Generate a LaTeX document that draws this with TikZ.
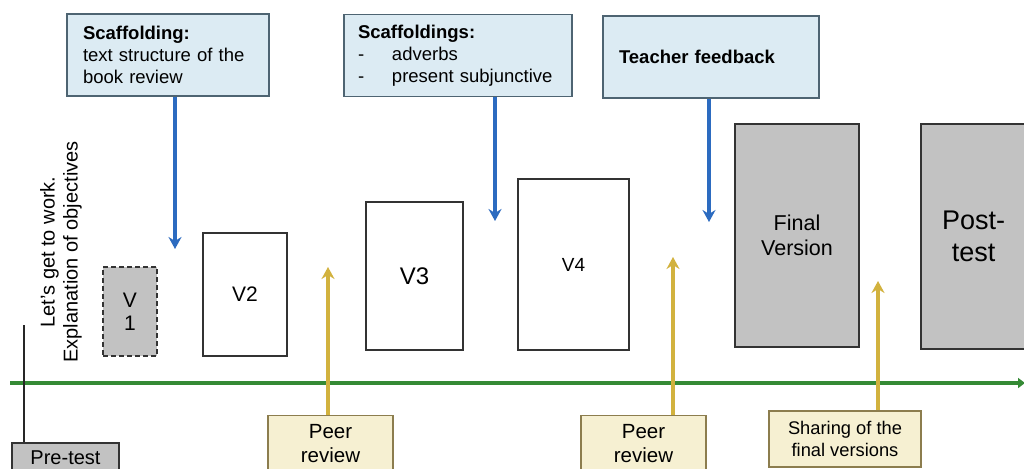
\documentclass[tikz,border=0pt]{standalone}
\usepackage{fontspec}
\setmainfont{Liberation Sans}
\usetikzlibrary{arrows.meta}
\definecolor{topfill}{HTML}{DCEBF3}
\definecolor{topdraw}{HTML}{4E6472}
\definecolor{bluearr}{HTML}{2C6BC0}
\definecolor{goldarr}{HTML}{D2B23E}
\definecolor{botfill}{HTML}{F6F0D2}
\definecolor{botdraw}{HTML}{8C7D4E}
\definecolor{grayfill}{HTML}{C2C2C2}
\definecolor{greenline}{HTML}{358A35}
\tikzset{
  topbox/.style={draw=topdraw, fill=topfill, line width=1.6pt, align=left, inner xsep=16pt,
    font=\fontsize{18.5}{22}\selectfont, minimum height=82pt, anchor=center},
  vbox/.style={draw=black!80, line width=1.7pt, fill=white, align=center},
  graybox/.style={draw=black!80, line width=1.7pt, fill=grayfill, align=center},
  botbox/.style={draw=botdraw, fill=botfill, line width=1.6pt, align=center},
  bluearrow/.style={draw=bluearr, line width=3.4pt, -{Stealth[length=12pt,width=13pt,inset=4pt]}},
  goldarrow/.style={draw=goldarr, line width=3.4pt, -{Stealth[length=12pt,width=13pt,inset=4pt]}},
}
\begin{document}
\begin{tikzpicture}[x=1pt,y=-1pt]
\useasboundingbox (0,0) rectangle (1024,468);
\fill[white] (0,0) rectangle (1024,468);

% top boxes
\node[topbox, text width=170pt] (b1) at (168,55) {\textbf{Scaffolding:}\\text structure of the\\book review};
\node[topbox, inner xsep=14pt, text width=200pt] (b2) at (458,55.5) {\textbf{Scaffoldings:}\\\makebox[34pt][l]{-}adverbs\\\makebox[34pt][l]{-}\mbox{present subjunctive}};
\node[topbox, text width=184pt] (b3) at (711,57) {\textbf{Teacher feedback}};

% blue arrows
\coordinate (t1) at (175,249);
\coordinate (t2) at (495,221);
\coordinate (t3) at (709,222);
\draw[bluearrow] (b1.south -| t1) -- (t1);
\draw[bluearrow] (b2.south -| t2) -- (t2);
\draw[bluearrow] (b3.south -| t3) -- (t3);

% rotated label
\node[rotate=90, align=center, font=\fontsize{20}{23}\selectfont] (lbl) at (61,252) {Let's get to work.\\Explanation of objectives};

% versions
\node[graybox, dash pattern=on 5pt off 3pt, minimum width=54pt, minimum height=89pt, font=\fontsize{21}{23}\selectfont] (v1) at (130,311.5) {V\\1};
\node[vbox, minimum width=84pt, minimum height=123pt, font=\fontsize{21}{24}\selectfont] (v2) at (245,294.5) {V2};
\node[vbox, minimum width=97pt, minimum height=148pt, font=\fontsize{24}{26}\selectfont] (v3) at (414.5,276) {V3};
\node[vbox, minimum width=111pt, minimum height=171pt, font=\fontsize{19}{22}\selectfont] (v4) at (573.5,264.5) {V4};
\node[graybox, minimum width=124pt, minimum height=223pt, font=\fontsize{21.5}{25}\selectfont] (fin) at (797,235.5) {Final\\Version};
\node[graybox, minimum width=105pt, minimum height=225pt, font=\fontsize{27}{32}\selectfont] (post) at (973.5,236.5) {Post-\\test};

% timeline
\coordinate (gl) at (10,383);
\coordinate (gr) at (1025,383);
\draw[greenline, line width=3.2pt, -{Triangle[length=7pt,width=10pt]}] (gl) -- (gr);

% pre-test
\node[draw=black!80, fill=grayfill, line width=1.6pt, minimum width=107pt, minimum height=30pt, font=\fontsize{20}{23}\selectfont] (pre) at (65.5,458) {Pre-test};
\coordinate (pl) at (24,325);
\draw[black!85, line width=2.2pt] (pl) -- (pl |- pre.north);

% bottom boxes
\node[botbox, minimum width=125pt, minimum height=56pt, font=\fontsize{20.5}{24}\selectfont] (p1) at (330.5,443.5) {Peer\\review};
\node[botbox, minimum width=125pt, minimum height=56pt, font=\fontsize{20.5}{24}\selectfont] (p2) at (643.5,443.5) {Peer\\review};
\node[botbox, minimum width=152pt, minimum height=56pt, font=\fontsize{18.3}{22}\selectfont] (sh) at (845,439) {Sharing of the\\final versions};

% gold arrows
\coordinate (u1) at (328,267);
\coordinate (u2) at (673,257);
\coordinate (u3) at (878,281);
\draw[goldarrow] (p1.north -| u1) -- (u1);
\draw[goldarrow] (p2.north -| u2) -- (u2);
\draw[goldarrow] (sh.north -| u3) -- (u3);
\end{tikzpicture}
\end{document}
